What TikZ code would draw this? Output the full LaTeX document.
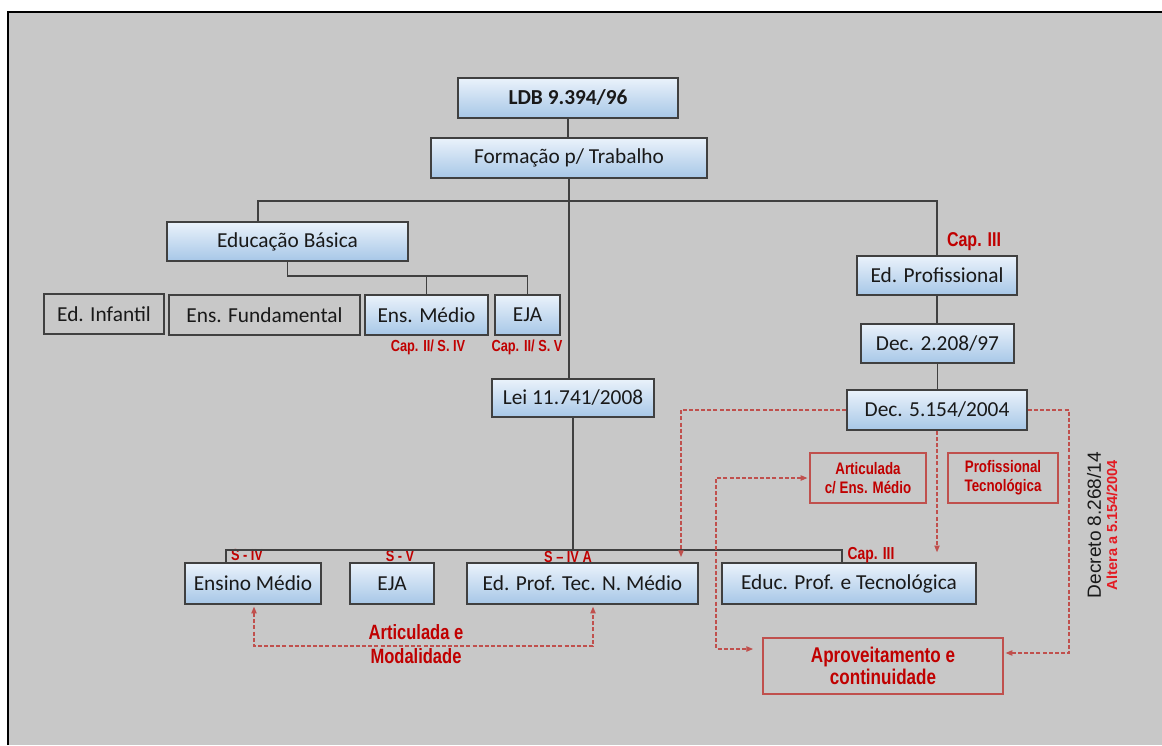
\documentclass[tikz,border=0pt]{standalone}
\usepackage{fontspec}
\setmainfont{Carlito}
\newfontfamily\redf[FakeStretch=0.8]{Liberation Sans}
\newfontfamily\arialf{Liberation Sans}
\usetikzlibrary{arrows.meta}
\definecolor{bgc}{HTML}{C8C8C8}
\definecolor{redt}{HTML}{C00000}
\definecolor{redl}{HTML}{C0504D}
\definecolor{redb}{HTML}{E31B23}
\definecolor{lineg}{HTML}{404040}
\definecolor{btop}{HTML}{EAF2FB}
\definecolor{bbot}{HTML}{A7C7E7}
\begin{document}
\begin{tikzpicture}[x=0.75pt,y=-0.75pt,
  >={Triangle[length=5pt,width=4pt]},
  sz/.style 2 args={minimum width=#1*0.75pt, minimum height=#2*0.75pt},
  bbox/.style={draw=lineg, line width=1.1pt, top color=btop, bottom color=bbot, inner sep=0pt, font=\fontsize{16}{19}\selectfont, text=black!90},
  gbox/.style={draw=lineg, line width=1.1pt, inner sep=0pt, font=\fontsize{16}{19}\selectfont, text=black!90},
  rbox/.style={draw=redl, line width=0.9pt, inner sep=0pt, text=redt, align=center, font=\redf\bfseries\fontsize{12.5}{14.3}\selectfont},
  conn/.style={draw=lineg, line width=1pt},
  rdash/.style={draw=redl, line width=0.8pt, dash pattern=on 3pt off 1.6pt, ->},
  rlab/.style={text=redt, inner sep=0pt, font=\redf\bfseries\fontsize{12}{14}\selectfont},
]
\useasboundingbox (0,0) rectangle (1162,745);
\fill[bgc] (8,12) rectangle (1162,745);
\draw[black, line width=1.6pt] (8,745) -- (8,12) -- (1162,12);

% boxes
\node[bbox, sz={220}{40}, font=\bfseries\fontsize{16}{19}\selectfont] (ldb) at (568,98) {LDB 9.394/96};
\node[bbox, sz={276}{40}] (form) at (569,158) {Formação p/ Trabalho};
\node[bbox, sz={241}{39}] (eb) at (287.5,241.5) {Educação Básica};
\node[gbox, sz={120}{40}] (inf) at (104,314) {Ed. Infantil};
\node[gbox, sz={191}{40}] (fund) at (264.5,315) {Ens. Fundamental};
\node[bbox, sz={123}{40}] (em) at (426.5,315) {Ens. Médio};
\node[bbox, sz={65}{40}] (eja) at (527.5,315) {EJA};
\node[bbox, sz={162}{38}] (lei) at (573,398) {Lei 11.741/2008};
\node[bbox, sz={160}{39}] (edp) at (937,275.5) {Ed. Profissional};
\node[bbox, sz={153}{39}] (d2) at (937.5,343.5) {Dec. 2.208/97};
\node[bbox, sz={180}{40}] (d5) at (937,410) {Dec. 5.154/2004};
\node[rbox, sz={116}{50}] (artic) at (868,478) {Articulada\\c/ Ens. Médio};
\node[rbox, sz={110}{50}] (proft) at (1003,478) {Profissional\\Tecnológica};
\node[bbox, sz={136}{41}] (enm) at (253,583.5) {Ensino Médio};
\node[bbox, sz={84}{41}] (ejab) at (392,583.5) {EJA};
\node[bbox, sz={231}{41}] (edpt) at (582.5,583.5) {Ed. Prof. Tec. N. Médio};
\node[bbox, sz={254}{41}] (educ) at (849,583.5) {Educ. Prof. e Tecnológica};
\node[rbox, sz={240}{56}, font=\redf\bfseries\fontsize{16}{17}\selectfont] (aprov) at (883,666) {Aproveitamento e\\continuidade};

% labels
\node[rlab] (l1) at (428,347) {Cap. II/ S. IV};
\node[rlab] (l2) at (527,347) {Cap. II/ S. V};
\node[rlab, font=\redf\bfseries\fontsize{15}{17}\selectfont] (l3) at (974,242) {Cap. III};
\node[rlab] (l4) at (247,555) {S - IV};
\node[rlab] (l5) at (400,556) {S - V};
\node[rlab] (l6) at (568,557) {S – IV A};
\node[rlab, font=\redf\bfseries\fontsize{13}{15}\selectfont] (l7) at (871,555) {Cap. III};
\node[rlab, align=center, font=\redf\bfseries\fontsize{15.5}{18}\selectfont] (l8) at (416,644) {Articulada e\\Modalidade};
\node[rotate=90, inner sep=0pt, font=\arialf\fontsize{14.3}{16}\selectfont, text=black!90] (dec8) at (1094,525) {Decreto 8.268/14};
\node[rotate=90, inner sep=0pt, text=redb, font=\arialf\bfseries\fontsize{10.9}{12}\selectfont] (alt) at (1112,525) {Altera a 5.154/2004};

% solid connectors
\draw[conn] (ldb.south) -- (ldb.south |- form.north);
\draw[conn] (form.south) -- (form.south |- lei.north);
\coordinate (hbL) at (258,201);
\coordinate (hbR) at (937,201);
\draw[conn] (hbL |- eb.north) -- (hbL) -- (hbR) -- (hbR |- edp.north);
\coordinate (ebb) at (288,276);
\draw[conn] (eb.south) -- (eb.south |- ebb) -| (eja.north);
\draw[conn] (em.north) -- (em.north |- ebb);
\draw[conn] (edp.south) -- (edp.south |- d2.north);
\draw[conn] (d2.south) -- (d2.south |- d5.north);
\coordinate (busL) at (226,550);
\coordinate (busR) at (842,550);
\draw[conn] (busL |- enm.north) -- (busL) -- (busR) -- (busR |- educ.north);
\draw[conn] (lei.south) -- (lei.south |- busL);

% dashed red connectors
\coordinate (dA) at (681,557);
\draw[rdash] (d5.west) -| (dA);
\draw[rdash, shorten >=7.5pt] (d5.south) -- (d5.south |- educ.north);
\coordinate (dC) at (1069,653);
\draw[rdash, shorten >=1.5pt] (d5.east) -| (dC) -- (aprov.east |- dC);
\coordinate (lp) at (716,649);
\draw[rdash, <->, shorten <=1.5pt, shorten >=7pt] (artic.west) -| (lp) -- (aprov.west |- lp);
\coordinate (amL) at (254,646);
\coordinate (amR) at (593,646);
\draw[rdash, <->, shorten <=1.5pt, shorten >=1.5pt] (amL |- enm.south) -- (amL) -- (amR) -- (amR |- edpt.south);
\end{tikzpicture}
\end{document}
